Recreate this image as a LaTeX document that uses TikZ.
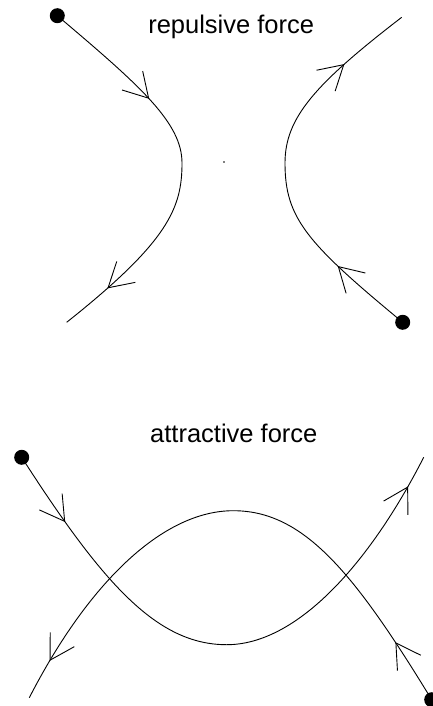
\documentclass[tikz,border=0pt]{standalone}
\usepackage{fontspec}
\setmainfont{Liberation Sans}
\usetikzlibrary{arrows.meta,decorations.markings}
\begin{document}
\begin{tikzpicture}[x=1pt, y=-1pt, font=\fontsize{25.5}{30}\selectfont,
  >={Straight Barb[length=24pt, width=28pt]},
  dot/.style={circle, fill, inner sep=0pt, minimum size=15pt},
  traj/.style 2 args={line width=0.9pt, postaction={decorate, decoration={markings,
    mark=at position #1 with {\arrow{>}},
    mark=at position #2 with {\arrow{>}}}}}]
  \useasboundingbox (0,0) rectangle (432,706);
  % repulsive
  \node[anchor=base] (rep) at (231.2,33.3) {repulsive force};
  \node[dot] (ra) at (57.3,15.7) {};
  \node[dot] (rb) at (402.7,322.3) {};
  \coordinate (raend) at (66.7,322.3);
  \coordinate (rbend) at (401.7,17.3);
  \fill (224,162) circle (0.8);
  \draw[traj={124pt}{-53pt}] (ra.center) .. controls (141.3,86.7) and (182,123) .. (182,163)
    .. controls (182,208) and (168.5,241.4) .. (raend);
  \draw[traj={86pt}{-74pt}] (rb.center) .. controls (306.3,242.7) and (285,218) .. (285,163)
    .. controls (285,118) and (314.5,84.4) .. (rbend);
  % attractive
  \node[anchor=base] (att) at (233.8,442.3) {attractive force};
  \node[dot] (aa) at (21.7,457.3) {};
  \node[dot] (ab) at (431.7,699.7) {};
  \coordinate (aaend) at (423.7,457.3);
  \coordinate (abend) at (29.3,697.7);
  \draw[traj={78pt}{-33pt}] (aa.center) .. controls (102.7,583.3) and (156.7,644.7) .. (226.7,644.7)
    .. controls (296.7,644.7) and (369.2,564.2) .. (aaend);
  \draw[traj={68pt}{-42pt}] (ab.center) .. controls (353.6,571.6) and (303.3,510.7) .. (233.3,510.7)
    .. controls (163.3,510.7) and (88.7,582.1) .. (abend);
\end{tikzpicture}
\end{document}
